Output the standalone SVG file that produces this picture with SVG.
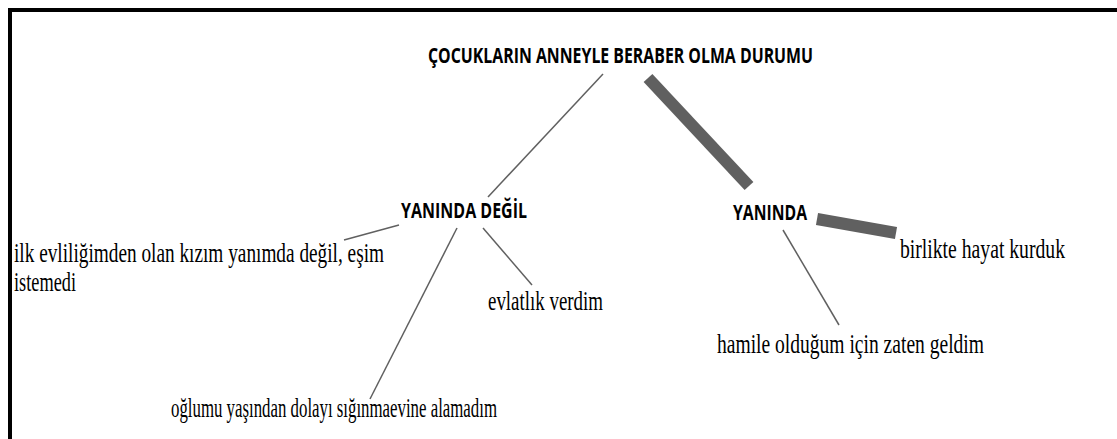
<svg xmlns="http://www.w3.org/2000/svg" width="1117" height="439" viewBox="0 0 1117 439">
<style>
.hd{font-family:"Open Sans","Liberation Sans",sans-serif;font-weight:bold;font-size:22px;fill:#000}
.tx{font-family:"Liberation Serif","Times New Roman",serif;font-size:28px;fill:#000}
.thin{stroke:#606060;stroke-width:1.5;fill:none}
.thick{stroke:#606060;stroke-width:12;fill:none;stroke-linecap:butt}
</style>
<rect width="1117" height="439" fill="#fff"/>
<path d="M10,439 V10 H1117" fill="none" stroke="#000" stroke-width="4"/>
<g id="connectors">
<line class="thin" x1="603" y1="74" x2="488" y2="197"/>
<line class="thick" x1="648" y1="78" x2="749" y2="186"/>
<line class="thin" x1="399" y1="225" x2="344" y2="240"/>
<line class="thin" x1="457" y1="228" x2="370" y2="399"/>
<line class="thin" x1="483" y1="228" x2="532" y2="285"/>
<line class="thick" x1="817" y1="219" x2="896" y2="233"/>
<line class="thin" x1="783" y1="230" x2="839" y2="325"/>
</g>
<g id="root"><text class="hd" x="428" y="63" textLength="385" lengthAdjust="spacingAndGlyphs">ÇOCUKLARIN ANNEYLE BERABER OLMA DURUMU</text></g>
<g id="yaninda-degil"><text class="hd" x="401" y="218" textLength="126" lengthAdjust="spacingAndGlyphs">YANINDA DEĞİL</text></g>
<g id="yaninda"><text class="hd" x="733" y="220" textLength="74" lengthAdjust="spacingAndGlyphs">YANINDA</text></g>
<g id="ilk-evlilik"><text class="tx" x="14" y="262" textLength="370" lengthAdjust="spacingAndGlyphs">ilk evliliğimden olan kızım yanımda değil, eşim</text><text class="tx" x="14" y="291" textLength="62" lengthAdjust="spacingAndGlyphs">istemedi</text></g>
<g id="evlatlik"><text class="tx" x="488" y="310" textLength="115" lengthAdjust="spacingAndGlyphs">evlatlık verdim</text></g>
<g id="oglumu"><text class="tx" x="171" y="417" textLength="326" lengthAdjust="spacingAndGlyphs">oğlumu yaşından dolayı sığınmaevine alamadım</text></g>
<g id="birlikte"><text class="tx" x="900" y="258" textLength="165" lengthAdjust="spacingAndGlyphs">birlikte hayat kurduk</text></g>
<g id="hamile"><text class="tx" x="717" y="353" textLength="267" lengthAdjust="spacingAndGlyphs">hamile olduğum için zaten geldim</text></g>
</svg>
